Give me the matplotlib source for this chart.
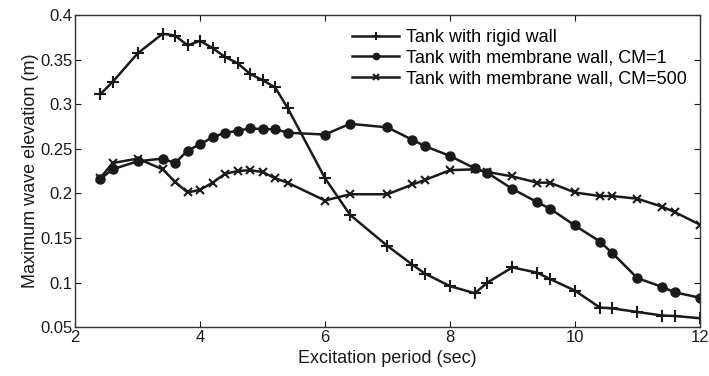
import matplotlib.pyplot as plt

plt.rcParams['font.family'] = ['Liberation Sans', 'DejaVu Sans']

# Excitation period (sec)
period = [2.4, 2.6, 3.0, 3.4, 3.6, 3.8, 4.0, 4.2, 4.4, 4.6, 4.8, 5.0, 5.2, 5.4,
          6.0, 6.4, 7.0, 7.4, 7.6, 8.0, 8.4, 8.6, 9.0, 9.4, 9.6, 10.0, 10.4, 10.6,
          11.0, 11.4, 11.6, 12.0]

# Maximum wave elevation (m)
rigid = [0.311, 0.325, 0.357, 0.379, 0.377, 0.366, 0.371, 0.363, 0.353, 0.346,
         0.334, 0.327, 0.319, 0.296, 0.217, 0.176, 0.141, 0.120, 0.110, 0.096,
         0.088, 0.100, 0.117, 0.111, 0.104, 0.091, 0.072, 0.071, 0.067, 0.063,
         0.0625, 0.060]
cm1 = [0.216, 0.227, 0.236, 0.239, 0.234, 0.248, 0.255, 0.263, 0.268, 0.270,
       0.273, 0.272, 0.272, 0.268, 0.266, 0.278, 0.274, 0.260, 0.253, 0.242,
       0.228, 0.223, 0.205, 0.190, 0.183, 0.164, 0.146, 0.133, 0.105, 0.095,
       0.089, 0.083]
cm500 = [0.217, 0.234, 0.239, 0.227, 0.213, 0.201, 0.204, 0.212, 0.222, 0.225,
         0.226, 0.224, 0.217, 0.212, 0.192, 0.199, 0.199, 0.210, 0.215, 0.226,
         0.227, 0.224, 0.219, 0.212, 0.212, 0.201, 0.197, 0.197, 0.194, 0.185,
         0.179, 0.165]

fig = plt.figure(figsize=(7.09, 3.76), dpi=100)
ax = fig.add_axes([0.106, 0.130, 0.881, 0.830])

col = '#1a1a1a'
ax.plot(period, rigid, color=col, lw=1.8, marker='+', ms=8, mew=1.5,
        label='Tank with rigid wall')
ax.plot(period, cm1, color=col, lw=1.8, marker='o', ms=6.5,
        label='Tank with membrane wall, CM=1')
ax.plot(period, cm500, color=col, lw=1.8, marker='x', ms=6, mew=1.5,
        label='Tank with membrane wall, CM=500')

ax.set_xlim(2, 12)
ax.set_ylim(0.05, 0.4)
ax.set_xticks([2, 4, 6, 8, 10, 12])
ax.set_yticks([0.05, 0.1, 0.15, 0.2, 0.25, 0.3, 0.35, 0.4])
ax.set_yticklabels(['0.05', '0.1', '0.15', '0.2', '0.25', '0.3', '0.35', '0.4'])
ax.tick_params(direction='in', top=True, right=True, labelsize=12, length=4,
               colors=col, pad=2)
for s in ax.spines.values():
    s.set_color('#333333')
    s.set_linewidth(1.0)

ax.set_xlabel('Excitation period (sec)', fontsize=13, color=col, labelpad=4)
ax.set_ylabel('Maximum wave elevation (m)', fontsize=13, color=col, labelpad=1)

ax.legend(loc='upper right', frameon=False, fontsize=13, handlelength=2.6,
          borderaxespad=0.2, labelspacing=0.2, handletextpad=0.4,
          markerscale=0.7, bbox_to_anchor=(0.997, 0.99))

fig.savefig('out.png', dpi=100)
